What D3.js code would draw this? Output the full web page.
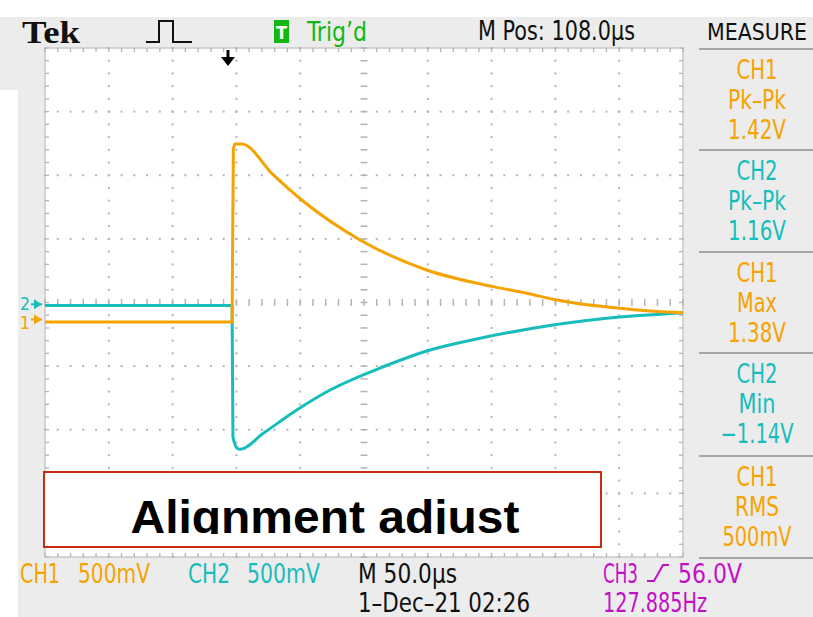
<!DOCTYPE html>
<html>
<head>
<meta charset="utf-8">
<script src="https://cdn.jsdelivr.net/npm/d3@7"></script>
<style>
  body { margin: 0; background: #fff; }
  svg { display: block; }
  .scope { font-family: "Liberation Sans Narrow", "DejaVu Sans Condensed", sans-serif; }
</style>
</head>
<body>
<svg id="chart"></svg>
<script>
// waveform samples, time in us from left edge of screen, volts
var ch1Time  = [0, 146.6, 147.6, 148.9, 154.2, 178.9, 201.2, 246.9, 299.1, 351.3, 377.5, 398.1, 413.8, 450.6, 471.6, 500];
var ch1Volts = [-0.02, -0.02, 1.333, 1.38, 1.38, 1.136, 0.939, 0.625, 0.389, 0.258, 0.206, 0.159, 0.132, 0.088, 0.069, 0.053];
var ch2Time  = [0, 146.6, 147.3, 150.5, 152.8, 171.1, 197.3, 223.4, 265.1, 301.7, 340.9, 374.6, 403.6, 440.2, 460.8, 482.0, 500];
var ch2Volts = [-0.01, -0.01, -1.041, -1.13, -1.14, -1.014, -0.831, -0.674, -0.491, -0.359, -0.267, -0.202, -0.155, -0.110, -0.092, -0.079, -0.066];

var voltsPerDiv = [0.5, 0.5];      // CH1, CH2
var groundDiv   = [-0.267, -0.028]; // channel position on screen, divisions
var trigTime = 143.4;

var measCh    = ["CH1", "CH2", "CH1", "CH2", "CH1"];
var measType  = ["Pk\u2013Pk", "Pk\u2013Pk", "Max", "Min", "RMS"];
var measValue = ["1.42V", "1.16V", "1.38V", "\u22121.14V", "500mV"];

var orange = "#f5a300", cyan = "#17bcbc", magenta = "#c210c8", green = "#12b812";

var width = 813, height = 617;
var gx0 = 45, gx1 = 683, gy0 = 48, gy1 = 557;

var svg = d3.select("#chart").attr("width", width).attr("height", height);

// scope style text, squeezed to the width it has on the screen
function txt(xx, yy, s, color, size, len, anchor) {
  var t = svg.append("text").attr("class", "scope").attr("x", xx).attr("y", yy)
    .attr("font-size", size).attr("fill", color).attr("text-anchor", anchor || "start").text(s);
  if (len) t.attr("textLength", len).attr("lengthAdjust", "spacingAndGlyphs");
  return t;
}

// background
svg.append("rect").attr("width", width).attr("height", height).attr("fill", "#fff");
svg.append("rect").attr("x", 0).attr("y", 17).attr("width", width).attr("height", height - 17).attr("fill", "#ececec");
svg.append("rect").attr("x", 0).attr("y", 90).attr("width", 18).attr("height", height - 90).attr("fill", "#fff");

var x = d3.scaleLinear().domain([0, 500]).range([gx0, gx1]);
var yDiv = d3.scaleLinear().domain([-4, 4]).range([gy1, gy0]);

// graticule
var g = svg.append("g");
g.append("rect").attr("x", gx0).attr("y", gy0).attr("width", gx1 - gx0).attr("height", gy1 - gy0)
  .attr("fill", "#fff").attr("stroke", "#c9c9c9").attr("stroke-width", 1.5);

var grid = "#b4b4b4";
var tx = d3.range(0, 50.01, 1).map(function(i) { return i * 10; });   // fifth-division steps in us
var ty = d3.range(-20, 20.01, 1).map(function(i) { return i / 5; });   // fifth-division steps in div

// dotted major lines
[50, 100, 150, 200, 300, 350, 400, 450].forEach(function(t) {
  ty.forEach(function(d) {
    g.append("rect").attr("x", x(t) - 1).attr("y", yDiv(d) - 1).attr("width", 2).attr("height", 2).attr("fill", grid);
  });
});
[-3, -2, -1, 1, 2, 3].forEach(function(d) {
  tx.forEach(function(t) {
    g.append("rect").attr("x", x(t) - 1).attr("y", yDiv(d) - 1).attr("width", 2).attr("height", 2).attr("fill", grid);
  });
});
// center lines with dashes
ty.forEach(function(d) {
  g.append("line").attr("x1", x(250) - 3.5).attr("x2", x(250) + 3.5).attr("y1", yDiv(d)).attr("y2", yDiv(d))
    .attr("stroke", grid).attr("stroke-width", 1.5);
});
tx.forEach(function(t) {
  g.append("line").attr("x1", x(t)).attr("x2", x(t)).attr("y1", yDiv(0) - 3.5).attr("y2", yDiv(0) + 3.5)
    .attr("stroke", grid).attr("stroke-width", 1.5);
});
// edge ticks
tx.forEach(function(t) {
  g.append("line").attr("x1", x(t)).attr("x2", x(t)).attr("y1", gy0).attr("y2", gy0 + 4).attr("stroke", grid).attr("stroke-width", 1.3);
  g.append("line").attr("x1", x(t)).attr("x2", x(t)).attr("y1", gy1 - 4).attr("y2", gy1).attr("stroke", grid).attr("stroke-width", 1.3);
});
ty.forEach(function(d) {
  g.append("line").attr("x1", gx0).attr("x2", gx0 + 4).attr("y1", yDiv(d)).attr("y2", yDiv(d)).attr("stroke", grid).attr("stroke-width", 1.3);
  g.append("line").attr("x1", gx1 - 4).attr("x2", gx1).attr("y1", yDiv(d)).attr("y2", yDiv(d)).attr("stroke", grid).attr("stroke-width", 1.3);
});

// traces
function trace(times, volts, ch, color) {
  var pts = times.map(function(t, i) { return [x(t), yDiv(volts[i] / voltsPerDiv[ch] + groundDiv[ch])]; });
  svg.append("path").datum(pts)
    .attr("d", d3.line().curve(d3.curveMonotoneX))
    .attr("fill", "none").attr("stroke", color).attr("stroke-width", 3)
    .attr("stroke-linejoin", "round");
}
trace(ch2Time, ch2Volts, 1, cyan);
trace(ch1Time, ch1Volts, 0, orange);

// ground markers
function marker(ch, label, color, dy) {
  var yy = yDiv(groundDiv[ch]);
  txt(20, yy + dy, label, color, 18, 10);
  svg.append("path").attr("d", "M34," + (yy - 5) + "L42," + yy + "L34," + (yy + 5) + "Z").attr("fill", color);
  svg.append("line").attr("x1", 31).attr("x2", 42).attr("y1", yy).attr("y2", yy).attr("stroke", color).attr("stroke-width", 2);
}
marker(1, "2", cyan, 6);
marker(0, "1", orange, 10);

// trigger position arrow
var ta = x(trigTime);
svg.append("line").attr("x1", ta).attr("x2", ta).attr("y1", 50).attr("y2", 60).attr("stroke", "#000").attr("stroke-width", 3);
svg.append("path").attr("d", "M" + (ta - 7) + ",57L" + (ta + 7) + ",57L" + ta + ",66Z").attr("fill", "#000");

// header
svg.append("text").attr("x", 22).attr("y", 43).attr("font-family", "Liberation Serif, serif")
  .attr("font-weight", "bold").attr("font-size", 31).attr("fill", "#111")
  .attr("textLength", 58).attr("lengthAdjust", "spacingAndGlyphs").text("Tek");
svg.append("path").attr("d", "M146,42H159V21H173V42H192").attr("fill", "none").attr("stroke", "#111").attr("stroke-width", 2);
svg.append("rect").attr("x", 274).attr("y", 20).attr("width", 15).attr("height", 23).attr("fill", green);
txt(281.5, 39, "T", "#fff", 18, null, "middle").attr("font-weight", "bold");
txt(307, 41, "Trig\u2019d", green, 26, 60);
txt(478, 40, "M Pos: 108.0\u00b5s", "#111", 26, 157);
txt(757, 40, "MEASURE", "#111", 23, 100, "middle");

// measure panel
var blockTop = [49, 150, 252, 353, 456];
var measLen = [[41, 58, 58], [41, 58, 58], [41, 40, 58], [41, 37, 73], [41, 44, 69]];
svg.append("line").attr("x1", 699).attr("x2", width).attr("y1", 49).attr("y2", 49).attr("stroke", "#a5a5a5").attr("stroke-width", 2);
measCh.forEach(function(c, i) {
  var col = c === "CH1" ? orange : cyan;
  var top = blockTop[i];
  [c, measType[i], measValue[i]].forEach(function(s, k) {
    txt(757, top + 30 + k * 30, s, col, 27, measLen[i][k], "middle");
  });
  var bottom = i < 4 ? blockTop[i + 1] : 558;
  svg.append("line").attr("x1", 699).attr("x2", width).attr("y1", bottom).attr("y2", bottom).attr("stroke", "#a5a5a5").attr("stroke-width", 2);
});

// footer
txt(20, 583, "CH1", orange, 27, 40);
txt(78, 583, "500mV", orange, 27, 72);
txt(188, 583, "CH2", cyan, 27, 42);
txt(247, 583, "500mV", cyan, 27, 73);
txt(358, 583, "M 50.0\u00b5s", "#111", 27, 99);
txt(358, 612, "1\u2013Dec\u201321 02:26", "#111", 27, 172);
txt(603, 583, "CH3", magenta, 27, 35);
svg.append("path").attr("d", "M647,581H654L663,565H669").attr("fill", "none").attr("stroke", magenta).attr("stroke-width", 2);
txt(678, 583, "56.0V", magenta, 27, 64);
txt(603, 612, "127.885Hz", magenta, 27, 104);

// annotation box
var clip = svg.append("clipPath").attr("id", "clipText");
clip.append("rect").attr("x", 44).attr("y", 472).attr("width", 557).attr("height", 62);
svg.append("rect").attr("x", 44).attr("y", 472).attr("width", 557).attr("height", 75)
  .attr("fill", "#fff").attr("stroke", "#cc2a10").attr("stroke-width", 2);
svg.append("text").attr("clip-path", "url(#clipText)").attr("x", 325).attr("y", 533)
  .attr("text-anchor", "middle").attr("font-family", "Liberation Sans, Arial, sans-serif")
  .attr("font-weight", "bold").attr("font-size", 47).attr("fill", "#000")
  .attr("textLength", 389).attr("lengthAdjust", "spacingAndGlyphs").text("Alignment adjust");
</script>
</body>
</html>
